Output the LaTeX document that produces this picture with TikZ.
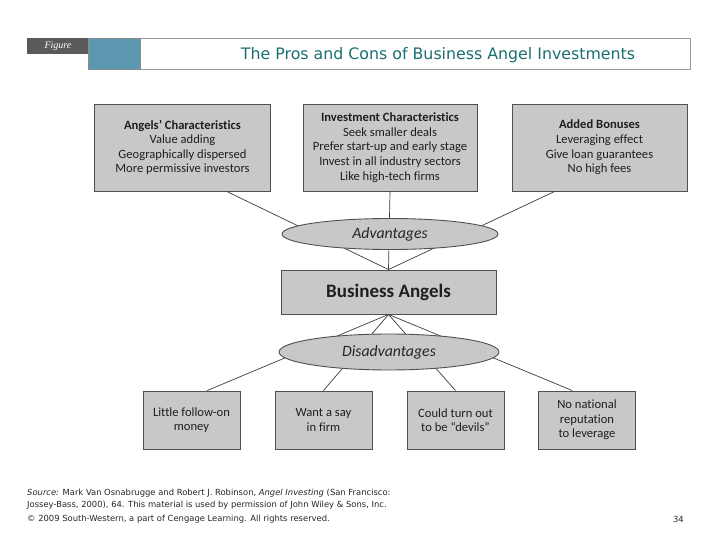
\documentclass[tikz,border=0pt]{standalone}
\usepackage{fontspec}
\setmainfont{Carlito}[RawFeature=-liga]
\newfontfamily\titlefont{DejaVu Sans}
\newfontfamily\footfont{DejaVu Sans}
\newfontfamily\figfont{Liberation Serif}
\usetikzlibrary{shapes.geometric,calc}
\definecolor{boxgray}{HTML}{C8C8C8}
\definecolor{edgegray}{HTML}{505050}
\definecolor{linegray}{HTML}{3C3C3C}
\definecolor{headblue}{HTML}{5B97AE}
\definecolor{headdark}{HTML}{5A5A5A}
\definecolor{titleteal}{HTML}{1B6F6F}
\tikzset{
  infobox/.style={draw=edgegray, line width=0.9pt, fill=boxgray, align=center, inner sep=2pt,
    font=\fontsize{12.6}{14.6}\selectfont, text=black!88},
  topbox/.style={infobox, minimum width=176pt, minimum height=87pt},
  lowbox/.style={infobox, minimum width=97pt, minimum height=58pt},
  oval/.style={ellipse, draw=edgegray, line width=0.9pt, fill=boxgray, inner sep=0pt,
    font=\fontsize{15.8}{17}\selectfont\itshape, text=black!85},
  link/.style={draw=linegray, line width=0.7pt},
  foot/.style={anchor=west, inner sep=0pt, font=\footfont\fontsize{8.4}{10}\selectfont, text=black!85}
}
\begin{document}
\begin{tikzpicture}[x=1pt,y=-1pt]
\useasboundingbox (0,0) rectangle (720,540);
% header
\draw[draw=black!40, line width=0.8pt, fill=white] (140,38) rectangle (690,69);
\fill[headblue] (88,38) rectangle (140,69);
\draw[black!45, line width=0.6pt] (88,38) rectangle (140,69);
\fill[headdark] (27,38) rectangle (88,54);
\node[text=white, font=\figfont\itshape\fontsize{10}{12}\selectfont, inner sep=0pt] (figlabel) at (58,46) {Figure};
\node[text=titleteal, font=\titlefont\fontsize{15.8}{18}\selectfont, inner sep=0pt] (title) at (438,55) {The Pros and Cons of Business Angel Investments};

% top boxes
\node[topbox] (angels) at (182.5,147.5) {\textbf{Angels' Characteristics}\\Value adding\\Geographically dispersed\\More permissive investors};
\node[topbox, minimum width=174pt] (invest) at (390,147.5) {\textbf{Investment Characteristics}\\Seek smaller deals\\Prefer start-up and early stage\\Invest in all industry sectors\\Like high-tech firms};
\node[topbox, minimum width=175pt] (bonus) at (599.5,147.5) {\textbf{Added Bonuses}\\Leveraging effect\\Give loan guarantees\\No high fees};

\node[infobox, minimum width=215pt, minimum height=44pt, font=\fontsize{19}{22}\selectfont\bfseries] (ba) at (388.5,292) {Business Angels};

% bottom boxes
\node[lowbox] (b1) at (191.5,420) {Little follow-on\\money};
\node[lowbox] (b2) at (323.5,420) {Want a say\\in firm};
\node[lowbox] (b3) at (455.5,420) {Could turn out\\to be ``devils''};
\node[lowbox] (b4) at (587,420) {No national\\reputation\\to leverage};

% connectors (behind ellipses)
\draw[link] ($(angels.south west)!0.75!(angels.south east)$) -- (ba.north);
\draw[link] (invest.south) -- (ba.north);
\draw[link] ($(bonus.south west)!0.245!(bonus.south east)$) -- (ba.north);
\draw[link] (ba.south) -- ($(b1.north west)!0.66!(b1.north east)$);
\draw[link] (ba.south) -- (b2.north);
\draw[link] (ba.south) -- (b3.north);
\draw[link] (ba.south) -- ($(b4.north west)!0.35!(b4.north east)$);

% ellipses
\node[oval, minimum width=216pt, minimum height=31pt] (adv) at (390,234) {Advantages};
\node[oval, minimum width=220pt, minimum height=36pt] (dis) at (389,352) {Disadvantages};

% footer
\node[foot] (src1) at (27,493) {\textit{Source:} Mark Van Osnabrugge and Robert J. Robinson, \textit{Angel Investing} (San Francisco:};
\node[foot] (src2) at (27,505.5) {Jossey-Bass, 2000), 64. This material is used by permission of John Wiley \& Sons, Inc.};
\node[foot] (copy) at (27,519) {© 2009 South-Western, a part of Cengage Learning. All rights reserved.};
\node[foot, anchor=east] (page) at (684,519) {34};
\end{tikzpicture}
\end{document}
